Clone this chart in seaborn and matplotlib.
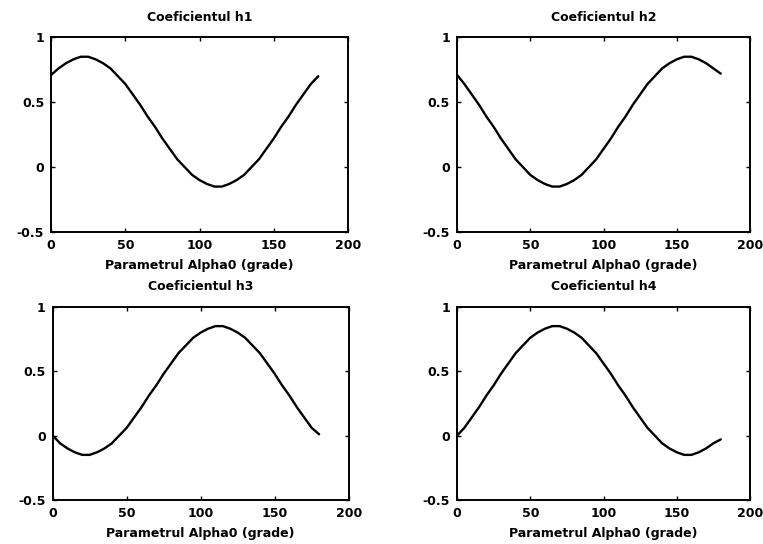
import matplotlib
matplotlib.use("Agg")
import matplotlib.pyplot as plt
import seaborn as sns
import pandas as pd

alpha = [0, 5, 10, 15, 20, 25, 30, 35, 40, 45, 50, 55, 60, 65, 70, 75, 80, 85, 90,
         95, 100, 105, 110, 115, 120, 125, 130, 135, 140, 145, 150, 155, 160, 165, 170, 175, 180]

h1 = [0.71, 0.76, 0.80, 0.83, 0.85, 0.85, 0.83, 0.80, 0.76, 0.70, 0.64, 0.56, 0.48, 0.39,
      0.31, 0.22, 0.14, 0.06, 0.00, -0.06, -0.10, -0.13, -0.15, -0.15, -0.13, -0.10, -0.06,
      0.00, 0.06, 0.14, 0.22, 0.31, 0.39, 0.48, 0.56, 0.64, 0.70]
h2 = [0.71, 0.64, 0.56, 0.48, 0.39, 0.31, 0.22, 0.14, 0.06, 0.00, -0.06, -0.10, -0.13, -0.15,
      -0.15, -0.13, -0.10, -0.06, 0.00, 0.06, 0.14, 0.22, 0.31, 0.39, 0.48, 0.56, 0.64, 0.70,
      0.76, 0.80, 0.83, 0.85, 0.85, 0.83, 0.80, 0.76, 0.72]
h3 = [0.00, -0.06, -0.10, -0.13, -0.15, -0.15, -0.13, -0.10, -0.06, 0.00, 0.06, 0.14, 0.22,
      0.31, 0.39, 0.48, 0.56, 0.64, 0.70, 0.76, 0.80, 0.83, 0.85, 0.85, 0.83, 0.80, 0.76,
      0.70, 0.64, 0.56, 0.48, 0.39, 0.31, 0.22, 0.14, 0.06, 0.01]
h4 = [0.00, 0.06, 0.14, 0.22, 0.31, 0.39, 0.48, 0.56, 0.64, 0.70, 0.76, 0.80, 0.83, 0.85,
      0.85, 0.83, 0.80, 0.76, 0.70, 0.64, 0.56, 0.48, 0.39, 0.31, 0.22, 0.14, 0.06, 0.00,
      -0.06, -0.10, -0.13, -0.15, -0.15, -0.13, -0.10, -0.06, -0.03]

titles = ["Coeficientul h1", "Coeficientul h2", "Coeficientul h3", "Coeficientul h4"]
xlabel = "Parametrul Alpha0 (grade)"
xticks = [0, 50, 100, 150, 200]
yticks = [-0.5, 0, 0.5, 1]
xticklabels = ["0", "50", "100", "150", "200"]
yticklabels = ["-0.5", "0", "0.5", "1"]

sns.set_style("ticks")
plt.rcParams['font.family'] = ['DejaVu Sans']
plt.rcParams['text.color'] = 'black'
plt.rcParams['axes.labelcolor'] = 'black'
plt.rcParams['xtick.color'] = 'black'
plt.rcParams['ytick.color'] = 'black'

fig = plt.figure(figsize=(7.63, 5.44), dpi=100)
positions = [
    [0.067, 0.5735, 0.389, 0.358],
    [0.599, 0.5735, 0.384, 0.358],
    [0.069, 0.081, 0.388, 0.355],
    [0.599, 0.081, 0.384, 0.355],
]
series = [h1, h2, h3, h4]

for pos, vals, title in zip(positions, series, titles):
    ax = fig.add_axes(pos)
    df = pd.DataFrame({"alpha": alpha, "h": vals})
    sns.lineplot(data=df, x="alpha", y="h", ax=ax, color="black", linewidth=1.7)
    ax.set_xlim(0, 200)
    ax.set_ylim(-0.5, 1)
    ax.set_xticks(xticks)
    ax.set_xticklabels(xticklabels)
    ax.set_yticks(yticks)
    ax.set_yticklabels(yticklabels)
    ax.tick_params(direction="in", length=3, width=1, top=True, right=True,
                   labelsize=9, pad=5, colors="black")
    for lbl in ax.get_xticklabels() + ax.get_yticklabels():
        lbl.set_fontweight("bold")
        lbl.set_color("black")
    for sp in ax.spines.values():
        sp.set_linewidth(1.4)
        sp.set_color("black")
    ax.set_title(title, fontsize=9, fontweight="bold", pad=12, color="black")
    ax.set_xlabel(xlabel, fontsize=9, fontweight="bold", labelpad=5, color="black")
    ax.set_ylabel("")

fig.savefig("out.png", dpi=100, facecolor="white")
